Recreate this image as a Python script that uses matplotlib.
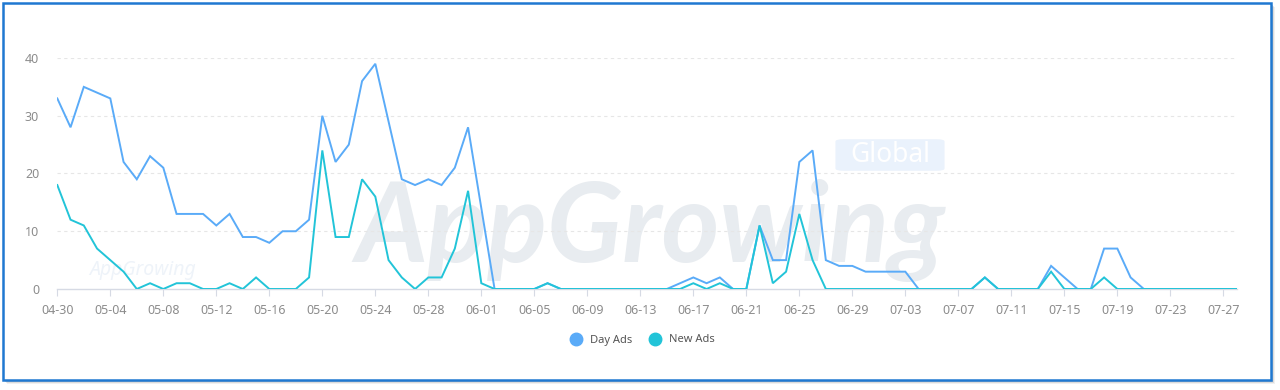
import matplotlib
matplotlib.use("Agg")
import matplotlib.pyplot as plt
from matplotlib.patches import FancyBboxPatch, Rectangle
from matplotlib.lines import Line2D
import datetime as dt

# ---- data ----
start = dt.date(2024, 4, 30)
n_days = 90
dates = [(start + dt.timedelta(days=i)).strftime("%m-%d") for i in range(n_days)]

day_ads = [33, 28, 35, 34, 33, 22, 19, 23, 21, 13,   # 04-30 .. 05-09
           13, 13, 11, 13, 9, 9, 8, 10, 10, 12,      # 05-10 .. 05-19
           30, 22, 25, 36, 39, 29, 19, 18, 19, 18,   # 05-20 .. 05-29
           21, 28, 14, 0, 0, 0, 0, 1, 0, 0,          # 05-30 .. 06-08
           0, 0, 0, 0, 0, 0, 0, 1, 2, 1,             # 06-09 .. 06-18
           2, 0, 0, 11, 5, 5, 22, 24, 5, 4,          # 06-19 .. 06-28
           4, 3, 3, 3, 3, 0, 0, 0, 0, 0,             # 06-29 .. 07-08
           2, 0, 0, 0, 0, 4, 2, 0, 0, 7,             # 07-09 .. 07-18
           7, 2, 0, 0, 0, 0, 0, 0, 0, 0]             # 07-19 .. 07-28

new_ads = [18, 12, 11, 7, 5, 3, 0, 1, 0, 1,
           1, 0, 0, 1, 0, 2, 0, 0, 0, 2,
           24, 9, 9, 19, 16, 5, 2, 0, 2, 2,
           7, 17, 1, 0, 0, 0, 0, 1, 0, 0,
           0, 0, 0, 0, 0, 0, 0, 0, 1, 0,
           1, 0, 0, 11, 1, 3, 13, 5, 0, 0,
           0, 0, 0, 0, 0, 0, 0, 0, 0, 0,
           2, 0, 0, 0, 0, 3, 0, 0, 0, 2,
           0, 0, 0, 0, 0, 0, 0, 0, 0, 0]

series_names = ["Day Ads", "New Ads"]
series_colors = ["#5AABF8", "#22C4D8"]
y_ticks = [0, 10, 20, 30, 40]

plt.rcParams['font.family'] = ['Noto Sans', 'DejaVu Sans']

W, H = 1280, 390
fig = plt.figure(figsize=(W / 100, H / 100), dpi=100)
fig.patch.set_facecolor("white")

# frame with soft shadow
for i, a in enumerate([0.10, 0.16, 0.24]):
    off = 4 - i
    sh = Rectangle(((3 + off) / W, (H - 380 - off) / H), 1268 / W, 377 / H,
                   transform=fig.transFigure, facecolor=(0.45, 0.45, 0.45, a),
                   edgecolor="none", zorder=0)
    fig.patches.append(sh)
frame = Rectangle((3 / W, (H - 380) / H), 1268 / W, 377 / H, transform=fig.transFigure,
                  facecolor="white", edgecolor="#1F78D1", linewidth=1.8, zorder=1)
fig.patches.append(frame)

x0, x1 = 57.3, 1236.6
yb, yt = 289, 58
ax = fig.add_axes([x0 / W, (H - yb) / H, (x1 - x0) / W, (yb - yt) / H])
ax.set_facecolor("none")
ax.set_zorder(3)

# watermark
fig.text(650 / W, (H - 262) / H, "AppGrowing", fontsize=80, fontweight="bold",
         style="italic", color="#E8ECF0", ha="center", va="baseline",
         family=["Lato", "DejaVu Sans"], zorder=2)
gbox = FancyBboxPatch((838 / W, (H - 170) / H), 104 / W, 30 / H,
                      boxstyle="round,pad=0.002,rounding_size=0.006",
                      transform=fig.transFigure, facecolor="#EAF2FC",
                      edgecolor="none", zorder=2.2)
fig.patches.append(gbox)
fig.text(890 / W, (H - 155) / H, "Global", fontsize=19, color="white",
         ha="center", va="center", zorder=2.5)
fig.text(142 / W, (H - 270) / H, "AppGrowing", fontsize=14, style="italic",
         color="#EEF3F9", ha="center", va="center", zorder=2)

xs = list(range(n_days))
ax.plot(xs, day_ads, color=series_colors[0], lw=1.4, zorder=4, solid_joinstyle="miter")
ax.plot(xs, new_ads, color=series_colors[1], lw=1.4, zorder=5, solid_joinstyle="miter")

ax.set_xlim(0, n_days - 1)
ax.set_ylim(0, 40)
ax.set_yticks(y_ticks)
ax.set_yticklabels([str(v) for v in y_ticks])
for v in y_ticks[1:]:
    ax.axhline(v, color="#E6E6E6", lw=0.8, ls=(0, (3, 3)), zorder=1)

tick_idx = list(range(0, n_days, 4))
ax.set_xticks(tick_idx)
ax.set_xticklabels([dates[i] for i in tick_idx])

for s in ["top", "right", "left"]:
    ax.spines[s].set_visible(False)
ax.spines["bottom"].set_color("#D6DAE4")
ax.spines["bottom"].set_linewidth(1.0)
ax.tick_params(axis="y", length=0, pad=13, labelsize=9, labelcolor="#8C8C8C")
ax.tick_params(axis="x", length=5, width=0.8, color="#D6DAE4", pad=6,
               labelsize=9, labelcolor="#8C8C8C")

# legend
handles = [Line2D([], [], marker="o", ls="none", markersize=9,
                  markerfacecolor=c, markeredgecolor=c) for c in series_colors]
fig.legend(handles, series_names, loc="center", bbox_to_anchor=(640 / W, (H - 340) / H),
           ncol=2, frameon=False, fontsize=8, handletextpad=0.3, columnspacing=1.0,
           labelcolor="#555555")

fig.savefig("out.png", dpi=100, facecolor="white")
